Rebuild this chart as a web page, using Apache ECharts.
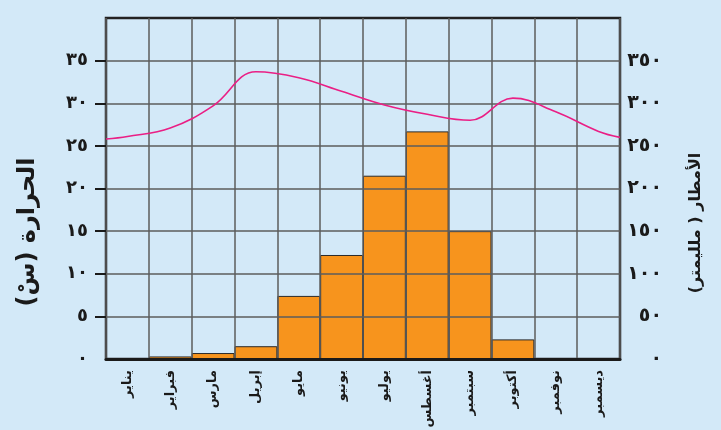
<!DOCTYPE html>
<html>
<head>
<meta charset="utf-8">
<script src="https://cdn.jsdelivr.net/npm/echarts@6/dist/echarts.min.js"></script>
<style>
  html, body { margin: 0; padding: 0; background: #d3e9f8; }
  #chart { width: 721px; height: 430px; }
</style>
</head>
<body>
<div id="chart"></div>
<script>
// الأشهر
var months = ['يناير', 'فبراير', 'مارس', 'إبريل', 'مايو', 'يونيو', 'يوليو', 'أغسطس', 'سبتمبر', 'أكتوبر', 'نوفمبر', 'ديسمبر'];
// الأمطار (ملليمتر)
var rain = [0, 3, 7, 15, 74, 122, 215, 267, 150, 23, 0, 0];
// الحرارة (س) في منتصف كل شهر
var temp = [26.1, 27.1, 29.7, 33.7, 33.0, 31.4, 29.8, 28.7, 28.0, 30.6, 29.0, 26.7];
// قيمة الحرارة عند طرفي الرسم
var tempStart = 25.8;
var tempEnd = 26.0;
// تسميات المحاور
var tempLabels = ['٠', '٥', '١٠', '١٥', '٢٠', '٢٥', '٣٠', '٣٥'];
var rainLabels = ['٠', '٥٠', '١٠٠', '١٥٠', '٢٠٠', '٢٥٠', '٣٠٠', '٣٥٠'];

var font = 'DejaVu Sans';

// نقاط الخط على محور قيمي من ٠ إلى ١٢
var linePts = [[0, tempStart]];
temp.forEach(function (t, i) { linePts.push([i + 0.5, t]); });
linePts.push([12, tempEnd]);

var chart = echarts.init(document.getElementById('chart'));
chart.setOption({
  backgroundColor: '#d3e9f8',
  animation: false,
  grid: {
    left: 106, right: 101, top: 18, bottom: 71,
    outerBoundsMode: 'none',
    show: true, borderColor: '#222', borderWidth: 2.5
  },
  xAxis: [
    {
      type: 'category',
      data: months,
      z: 3,
      axisLine: { lineStyle: { color: '#1a1a1a', width: 3 } },
      axisTick: { show: false },
      splitLine: { show: true, interval: 0, lineStyle: { color: '#5c5c5c', width: 1.5 } },
      axisLabel: {
        interval: 0, rotate: 90, margin: 11,
        color: '#1a1a1a', fontFamily: font, fontWeight: 'bold', fontSize: 13
      }
    },
    { type: 'value', min: 0, max: 12, show: false }
  ],
  yAxis: [
    {
      type: 'value', min: 0, max: 40, interval: 5,
      z: 3,
      axisLine: { show: false },
      axisTick: { show: true, length: 11, customValues: [5, 10, 15, 20, 25, 30, 35], lineStyle: { color: '#1a1a1a', width: 2 } },
      splitLine: { lineStyle: { color: '#5c5c5c', width: 1.5 } },
      axisLabel: {
        margin: 18, color: '#1a1a1a', fontFamily: font, fontWeight: 'bold', fontSize: 18,
        formatter: function (v) { return tempLabels[v / 5] || ''; }
      }
    },
    {
      type: 'value', min: 0, max: 400, interval: 50,
      position: 'right',
      axisLine: { show: false },
      axisTick: { show: false },
      splitLine: { show: false },
      axisLabel: {
        margin: 42, align: 'right', color: '#1a1a1a', fontFamily: font, fontWeight: 'bold', fontSize: 19,
        formatter: function (v) { return rainLabels[v / 50] || ''; }
      }
    }
  ],
  graphic: [
    {
      type: 'text', x: 28, y: 232, rotation: Math.PI / 2,
      style: {
        text: 'الحرارة (سْ)', fill: '#1a1a1a', font: 'bold 24px "DejaVu Sans"',
        textAlign: 'center', textVerticalAlign: 'middle'
      }
    },
    {
      type: 'text', x: 696, y: 223, rotation: Math.PI / 2,
      style: {
        text: 'الأمطار ( ملليمتر)', fill: '#1a1a1a', font: 'bold 16px "DejaVu Sans"',
        textAlign: 'center', textVerticalAlign: 'middle'
      }
    }
  ],
  series: [
    {
      type: 'bar',
      xAxisIndex: 0, yAxisIndex: 1,
      data: rain,
      barCategoryGap: '0%',
      itemStyle: { color: '#f7941d', borderColor: '#2a2a2a', borderWidth: 1 }
    },
    {
      type: 'line',
      xAxisIndex: 1, yAxisIndex: 0,
      data: linePts,
      smooth: 0.4,
      symbol: 'none',
      z: 5,
      lineStyle: { color: '#ea1f85', width: 1.6 }
    }
  ]
});
</script>
</body>
</html>
